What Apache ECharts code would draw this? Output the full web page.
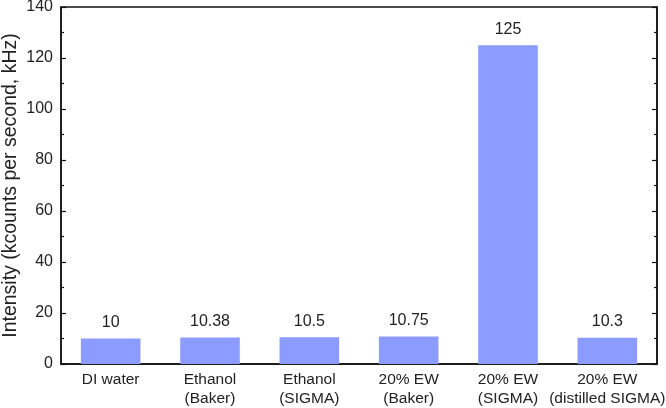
<!DOCTYPE html>
<html>
<head>
<meta charset="utf-8">
<script src="https://cdn.jsdelivr.net/npm/echarts@6/dist/echarts.min.js"></script>
<style>
  html, body { margin: 0; padding: 0; background: #fff; }
  #chart { width: 666px; height: 408px; }
</style>
</head>
<body>
<div id="chart"></div>
<script>
const categories = [
  'DI water',
  'Ethanol\n(Baker)',
  'Ethanol\n(SIGMA)',
  '20% EW\n(Baker)',
  '20% EW\n(SIGMA)',
  '20% EW\n(distilled SIGMA)'
];
const intensity = [10, 10.38, 10.5, 10.75, 125, 10.3];
const valueLabels = ['10', '10.38', '10.5', '10.75', '125', '10.3'];

const font = 'Liberation Sans, Arial, sans-serif';
const chart = echarts.init(document.getElementById('chart'));

chart.setOption({
  animation: false,
  backgroundColor: '#fff',
  grid: {
    left: 61, right: 9, top: 7, bottom: 44,
    outerBoundsMode: 'none',
    containLabel: false,
    show: true, borderColor: '#111', borderWidth: 1.5
  },
  xAxis: {
    type: 'category',
    data: categories,
    axisLine: { lineStyle: { color: '#111', width: 1.5 } },
    axisTick: { show: false },
    axisLabel: { interval: 0, color: '#222', fontSize: 15.5, fontFamily: font, lineHeight: 19, margin: 6 }
  },
  yAxis: [{
    type: 'value',
    min: 0, max: 140, interval: 20,
    name: 'Intensity (kcounts per second, kHz)',
    nameLocation: 'middle',
    nameGap: 40,
    nameMoveOverlap: false,
    nameTextStyle: { color: '#222', fontSize: 19.5, fontFamily: font },
    axisLine: { show: true, lineStyle: { color: '#111', width: 1.5 } },
    axisTick: { show: true, inside: true, length: 5, lineStyle: { color: '#111', width: 1.2 } },
    minorTick: { show: true, splitNumber: 2, length: 3, lineStyle: { color: '#111', width: 1.2 } },
    axisLabel: { color: '#222', fontSize: 16, fontFamily: font, margin: 8 },
    splitLine: { show: false }
  }, {
    type: 'value',
    position: 'right',
    min: 0, max: 140, interval: 20,
    axisLine: { show: true, lineStyle: { color: '#111', width: 1.5 } },
    axisTick: { show: true, inside: true, length: 5, lineStyle: { color: '#111', width: 1.2 } },
    minorTick: { show: true, splitNumber: 2, length: 3, lineStyle: { color: '#111', width: 1.2 } },
    axisLabel: { show: false },
    splitLine: { show: false }
  }],
  series: [{
    type: 'bar',
    data: intensity,
    barWidth: '60%',
    itemStyle: { color: '#8c9bff' },
    label: {
      show: true,
      position: 'top',
      distance: 8,
      color: '#222',
      fontSize: 16,
      fontFamily: font,
      formatter: p => valueLabels[p.dataIndex]
    }
  }]
});
</script>
</body>
</html>
